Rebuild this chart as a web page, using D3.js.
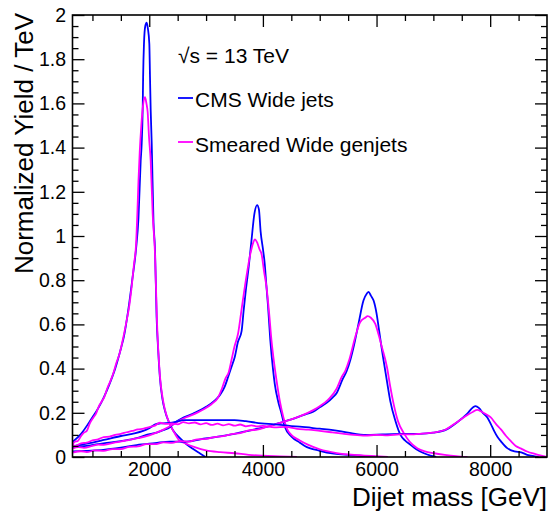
<!DOCTYPE html>
<html>
<head>
<meta charset="utf-8">
<script src="https://cdn.jsdelivr.net/npm/d3@7"></script>
<style>
  body { margin: 0; background: #fff; }
  svg { display: block; font-family: "Liberation Sans", Arial, Helvetica, sans-serif; }
</style>
</head>
<body>
<div class="chart"></div>
<script>
// [dijet mass (GeV), normalized yield / TeV]
const wide2000 = [[649,0.068],[800,0.105],[1000,0.18],[1100,0.22],[1200,0.27],[1300,0.33],[1400,0.40],[1500,0.49],[1550,0.54],[1630,0.665],[1700,0.80],[1767,0.94],[1810,1.08],[1849,1.34],[1867,1.42],[1884,1.57],[1892,1.72],[1907,1.87],[1930,1.95],[1955,1.965],[1975,1.94],[2001,1.87],[2013,1.72],[2025,1.57],[2043,1.42],[2050,1.34],[2075,1.06],[2101,0.94],[2129,0.635],[2160,0.47],[2187,0.36],[2230,0.265],[2275,0.21],[2350,0.155],[2421,0.12],[2540,0.085],[2656,0.058],[2780,0.035],[2900,0.015],[2990,0]];
const gen2000 = [[649,0.055],[690,0.07],[740,0.072],[800,0.095],[850,0.11],[900,0.118],[950,0.15],[1015,0.178],[1060,0.195],[1110,0.228],[1160,0.25],[1210,0.272],[1260,0.31],[1310,0.34],[1366,0.378],[1420,0.425],[1480,0.47],[1542,0.54],[1600,0.615],[1640,0.67],[1690,0.77],[1730,0.87],[1767,0.96],[1790,1.1],[1810,1.25],[1832,1.38],[1860,1.5],[1890,1.59],[1925,1.628],[1950,1.60],[1972,1.56],[1995,1.45],[2025,1.34],[2060,1.10],[2101,0.92],[2135,0.62],[2190,0.36],[2240,0.26],[2290,0.20],[2360,0.15],[2430,0.115],[2530,0.075],[2650,0.06],[2800,0.045],[3000,0.03],[3250,0.022],[3500,0.017],[3750,0.01],[4000,0.006],[4300,0.003],[4600,0]];

const wide4000 = [[649,0.044],[900,0.05],[1191,0.062],[1500,0.072],[1778,0.085],[1950,0.10],[2129,0.11],[2250,0.122],[2363,0.135],[2450,0.155],[2600,0.178],[2773,0.197],[3008,0.228],[3150,0.255],[3242,0.28],[3330,0.32],[3389,0.363],[3450,0.41],[3506,0.454],[3560,0.52],[3625,0.57],[3660,0.66],[3700,0.756],[3750,0.86],[3799,0.98],[3850,1.10],[3898,1.14],[3930,1.12],[3960,1.02],[4003,0.937],[4030,0.88],[4060,0.78],[4091,0.68],[4130,0.53],[4179,0.394],[4209,0.33],[4270,0.25],[4327,0.197],[4385,0.137],[4503,0.092],[4650,0.065],[4737,0.05],[5000,0.028],[5250,0.015],[5528,0.009],[6000,0]];
const gen4000 = [[649,0.038],[750,0.045],[850,0.041],[1000,0.05],[1100,0.056],[1200,0.055],[1400,0.066],[1600,0.075],[1800,0.085],[2000,0.098],[2200,0.118],[2400,0.145],[2500,0.16],[2650,0.18],[2800,0.195],[2950,0.215],[3100,0.24],[3200,0.265],[3280,0.31],[3340,0.355],[3400,0.385],[3448,0.44],[3500,0.5],[3564,0.56],[3623,0.665],[3700,0.80],[3780,0.92],[3830,0.97],[3858,0.985],[3900,0.97],[3940,0.94],[3975,0.92],[4020,0.84],[4063,0.77],[4110,0.65],[4150,0.53],[4200,0.42],[4238,0.35],[4300,0.25],[4360,0.18],[4420,0.13],[4500,0.10],[4650,0.075],[4800,0.055],[5000,0.035],[5300,0.018],[5700,0.008],[6200,0]];

const wide6000 = [[649,0.025],[900,0.028],[1191,0.032],[1500,0.042],[1778,0.054],[2100,0.063],[2363,0.07],[2627,0.069],[2900,0.08],[3212,0.092],[3500,0.105],[3799,0.122],[4050,0.135],[4267,0.152],[4500,0.17],[4737,0.192],[4885,0.205],[5000,0.225],[5122,0.245],[5230,0.27],[5299,0.29],[5400,0.35],[5475,0.389],[5540,0.44],[5595,0.496],[5682,0.602],[5770,0.708],[5830,0.74],[5860,0.747],[5900,0.73],[5948,0.708],[6000,0.65],[6037,0.587],[6080,0.51],[6125,0.435],[6185,0.34],[6243,0.252],[6330,0.165],[6421,0.10],[6500,0.075],[6598,0.055],[6700,0.035],[6834,0.017],[6950,0.006],[7050,0]];
const gen6000 = [[649,0.02],[800,0.026],[900,0.022],[1050,0.03],[1200,0.028],[1350,0.036],[1500,0.036],[1650,0.046],[1800,0.048],[1950,0.058],[2100,0.058],[2250,0.066],[2400,0.064],[2550,0.072],[2700,0.07],[2850,0.08],[3000,0.082],[3150,0.09],[3300,0.094],[3450,0.104],[3600,0.108],[3750,0.12],[3900,0.124],[4050,0.135],[4200,0.146],[4350,0.158],[4500,0.17],[4750,0.195],[5000,0.23],[5150,0.26],[5300,0.31],[5387,0.362],[5450,0.39],[5520,0.44],[5623,0.541],[5711,0.61],[5800,0.63],[5843,0.637],[5900,0.63],[5978,0.602],[6040,0.55],[6096,0.496],[6185,0.405],[6240,0.32],[6303,0.237],[6380,0.16],[6480,0.108],[6580,0.07],[6716,0.04],[6850,0.025],[7012,0.017],[7200,0.01],[7400,0.004],[7600,0]];

const wide8000 = [[649,0.048],[900,0.06],[1200,0.077],[1500,0.095],[1700,0.105],[1894,0.118],[2000,0.13],[2129,0.15],[2200,0.152],[2400,0.155],[2627,0.167],[3000,0.167],[3500,0.167],[3700,0.162],[3975,0.152],[4200,0.148],[4500,0.14],[4649,0.137],[5000,0.128],[5234,0.122],[5500,0.11],[5820,0.1],[6100,0.102],[6406,0.104],[6758,0.105],[6997,0.11],[7235,0.125],[7414,0.156],[7593,0.195],[7700,0.225],[7743,0.23],[7800,0.222],[7870,0.20],[7950,0.179],[8010,0.15],[8069,0.118],[8130,0.09],[8189,0.071],[8300,0.04],[8428,0.025],[8546,0.021],[8650,0.01],[8785,0.003],[8850,0]];
const gen8000 = [[649,0.055],[700,0.05],[800,0.062],[900,0.065],[1000,0.075],[1100,0.08],[1200,0.09],[1300,0.092],[1400,0.1],[1500,0.105],[1600,0.112],[1700,0.118],[1800,0.125],[1900,0.128],[2000,0.135],[2100,0.142],[2187,0.155],[2300,0.15],[2400,0.152],[2500,0.148],[2600,0.158],[2700,0.152],[2800,0.156],[2900,0.148],[3000,0.153],[3100,0.145],[3200,0.151],[3300,0.143],[3400,0.149],[3500,0.142],[3600,0.147],[3700,0.139],[3800,0.143],[3900,0.138],[4000,0.141],[4200,0.134],[4400,0.136],[4600,0.127],[4800,0.124],[5000,0.118],[5200,0.112],[5400,0.106],[5600,0.1],[5800,0.097],[6000,0.1],[6200,0.098],[6400,0.102],[6600,0.102],[6800,0.106],[7000,0.11],[7200,0.122],[7400,0.155],[7600,0.19],[7700,0.205],[7771,0.213],[7850,0.205],[7950,0.19],[8010,0.179],[8100,0.15],[8189,0.125],[8280,0.095],[8367,0.071],[8450,0.05],[8546,0.038],[8650,0.025],[8785,0.014],[8900,0.006],[9000,0]];

const xMajor = [2000, 4000, 6000, 8000];
const xMinor = [1000, 1500, 2500, 3000, 3500, 4500, 5000, 5500, 6500, 7000, 7500, 8500];
const yMajor = [0, 0.2, 0.4, 0.6, 0.8, 1, 1.2, 1.4, 1.6, 1.8, 2];
const yMinor = [0.05, 0.1, 0.15, 0.25, 0.3, 0.35, 0.45, 0.5, 0.55, 0.65, 0.7, 0.75, 0.85, 0.9, 0.95,
  1.05, 1.1, 1.15, 1.25, 1.3, 1.35, 1.45, 1.5, 1.55, 1.65, 1.7, 1.75, 1.85, 1.9, 1.95];

const width = 550, height = 521;
const plotLeft = 72.5, plotRight = 547, plotTop = 15, plotBottom = 457;

const svg = d3.select(".chart").append("svg")
  .attr("width", width)
  .attr("height", height);

const x = d3.scaleLinear().domain([649, 9000]).range([plotLeft, plotRight]);
const y = d3.scaleLinear().domain([0, 2]).range([plotBottom, plotTop]);

svg.append("clipPath").attr("id", "clip")
  .append("rect")
  .attr("x", plotLeft).attr("y", plotTop)
  .attr("width", plotRight - plotLeft).attr("height", plotBottom - plotTop);

const line = d3.line()
  .x((d) => x(d[0]))
  .y((d) => y(d[1]))
  .curve(d3.curveMonotoneX);

const curves = [
  { data: wide2000, color: "#0000ff" }, { data: gen2000, color: "#ff00ff" },
  { data: wide4000, color: "#0000ff" }, { data: gen4000, color: "#ff00ff" },
  { data: wide6000, color: "#0000ff" }, { data: gen6000, color: "#ff00ff" },
  { data: wide8000, color: "#0000ff" }, { data: gen8000, color: "#ff00ff" },
];

svg.append("g").attr("clip-path", "url(#clip)")
  .selectAll("path")
  .data(curves)
  .enter()
  .append("path")
  .attr("d", (d) => line(d.data))
  .attr("fill", "none")
  .attr("stroke", (d) => d.color)
  .attr("stroke-width", 1.8);

// axes: ROOT style, ticks inward on all four sides
function styleAxis(g) {
  g.select(".domain").remove();
  g.selectAll("line").attr("stroke", "#000").attr("stroke-width", 1.3);
  g.selectAll("text").attr("fill", "#000").style("font-size", "19.5px");
}

svg.append("g").attr("transform", `translate(0,${plotBottom})`)
  .call(d3.axisBottom(x).tickValues(xMajor).tickSize(-12).tickPadding(5).tickFormat(d3.format("d")))
  .call(styleAxis);
svg.append("g").attr("transform", `translate(0,${plotBottom})`)
  .call(d3.axisBottom(x).tickValues(xMinor).tickSize(-6).tickFormat(""))
  .call(styleAxis);
svg.append("g").attr("transform", `translate(0,${plotTop})`)
  .call(d3.axisTop(x).tickValues(xMajor).tickSize(-12).tickFormat(""))
  .call(styleAxis);
svg.append("g").attr("transform", `translate(0,${plotTop})`)
  .call(d3.axisTop(x).tickValues(xMinor).tickSize(-6).tickFormat(""))
  .call(styleAxis);

svg.append("g").attr("transform", `translate(${plotLeft},0)`)
  .call(d3.axisLeft(y).tickValues(yMajor).tickSize(-12).tickPadding(6.5).tickFormat((d) => String(+d.toFixed(1))))
  .call(styleAxis);
svg.append("g").attr("transform", `translate(${plotLeft},0)`)
  .call(d3.axisLeft(y).tickValues(yMinor).tickSize(-6).tickFormat(""))
  .call(styleAxis);
svg.append("g").attr("transform", `translate(${plotRight},0)`)
  .call(d3.axisRight(y).tickValues(yMajor).tickSize(-12).tickFormat(""))
  .call(styleAxis);
svg.append("g").attr("transform", `translate(${plotRight},0)`)
  .call(d3.axisRight(y).tickValues(yMinor).tickSize(-6).tickFormat(""))
  .call(styleAxis);

svg.append("rect")
  .attr("x", plotLeft).attr("y", plotTop)
  .attr("width", plotRight - plotLeft).attr("height", plotBottom - plotTop)
  .attr("fill", "none")
  .attr("stroke", "#000")
  .attr("stroke-width", 1.6);

// axis titles
svg.append("text")
  .attr("x", plotRight)
  .attr("y", 506)
  .attr("text-anchor", "end")
  .style("font-size", "26px")
  .text("Dijet mass [GeV]");

svg.append("text")
  .attr("transform", "translate(33,13) rotate(-90)")
  .attr("text-anchor", "end")
  .style("font-size", "26px")
  .text("Normalized Yield / TeV");

// legend
svg.append("text")
  .attr("x", 178).attr("y", 63)
  .style("font-size", "21px")
  .text("√s = 13 TeV");

const legend = [
  { label: "CMS Wide jets", color: "#0000ff", y: 98, base: 107 },
  { label: "Smeared Wide genjets", color: "#ff00ff", y: 142, base: 152 },
];
const lg = svg.append("g").selectAll("g").data(legend).enter().append("g");
lg.append("line")
  .attr("x1", 178).attr("x2", 193)
  .attr("y1", (d) => d.y).attr("y2", (d) => d.y)
  .attr("stroke", (d) => d.color)
  .attr("stroke-width", 1.8);
lg.append("text")
  .attr("x", 195).attr("y", (d) => d.base)
  .style("font-size", "21px")
  .text((d) => d.label);
</script>
</body>
</html>
